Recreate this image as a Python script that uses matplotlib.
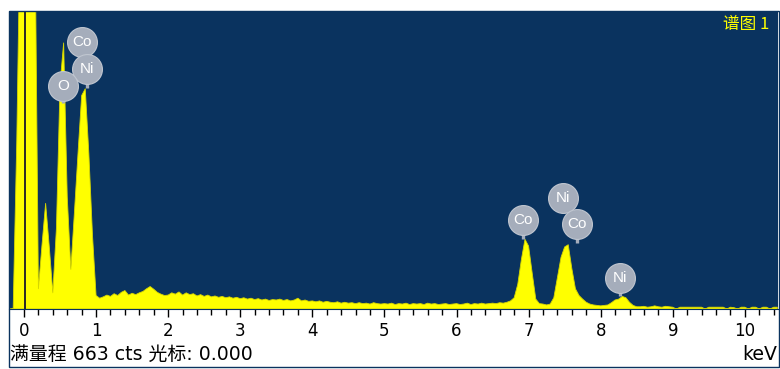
import numpy as np
import matplotlib.pyplot as plt
from matplotlib.patches import Rectangle

plt.rcParams['font.family'] = ['DejaVu Sans', 'Noto Sans CJK SC']

# energy grid (keV), step 0.05
energy = np.round(np.arange(-0.20, 10.46, 0.05), 2)

# counts, one row per keV
counts = [
    0, 0, 375, 900,                                                    # -0.20 .. -0.05
    900, 900, 900, 900, 45, 143, 235, 140, 36, 180,
    500, 592, 250, 88, 216, 348, 475, 490, 345, 165,                   # 0.00 .. 0.95
    30, 24, 27, 31, 28, 34, 30, 37, 41, 31,
    35, 32, 36, 39, 45, 50, 44, 37, 33, 30,                            # 1.00 .. 1.95
    31, 36, 33, 38, 31, 36, 32, 34, 29, 32,
    28, 31, 27, 29, 26, 28, 25, 27, 24, 26,                            # 2.00 .. 2.95
    23, 25, 22, 24, 21, 23, 20, 22, 19, 21,
    20, 22, 19, 21, 18, 20, 24, 18, 20, 17,                            # 3.00 .. 3.95
    18, 16, 18, 15, 17, 15, 14, 16, 13, 15,
    13, 14, 12, 14, 12, 13, 11, 14, 12, 11,                            # 4.00 .. 4.95
    12, 11, 13, 10, 12, 11, 13, 10, 12, 11,
    12, 10, 13, 11, 12, 10, 11, 12, 10, 11,                            # 5.00 .. 5.95
    12, 10, 11, 13, 10, 12, 11, 13, 11, 12,
    13, 12, 14, 13, 15, 18, 25, 55, 110, 155,                          # 6.00 .. 6.95
    140, 80, 22, 12, 11, 9, 11, 25, 70, 115,
    138, 143, 90, 45, 30, 22, 15, 11, 9, 8,                            # 7.00 .. 7.95
    7, 8, 9, 14, 20, 22, 28, 25, 15, 8,
    5, 5, 6, 4, 5, 7, 5, 4, 6, 5,                                      # 8.00 .. 8.95
    4, 0, 4, 4, 4, 4, 4, 4, 4, 0,
    4, 4, 4, 4, 4, 0, 4, 3, 0, 4,                                      # 9.00 .. 9.95
    4, 0, 4, 4, 0, 4, 4, 0, 4, 4,                                      # 10.00 .. 10.45
]
assert len(counts) == len(energy)

full_scale = 663
cursor = 0.000

# element badges: name, energy of badge, badge height (cts), stem end (cts)
peak_names = ['Co', 'Ni', 'O', 'Co', 'Ni', 'Co', 'Ni']
badge_e = [0.80, 0.87, 0.54, 6.92, 7.48, 7.67, 8.27]
badge_y = [595, 534, 496, 197, 246, 190, 69]
stem_end = [550, 492, 458, 156, 215, 147, 29]

navy = '#0a335f'
yellow = '#ffff00'
badge = '#a5adbb'

fig = plt.figure(figsize=(7.8, 3.69), dpi=100)
ax = fig.add_axes([9 / 780, (369 - 309) / 369, 769 / 780, 298 / 369])
ax.set_facecolor(navy)

ax.fill_between(energy, counts, 0, color=yellow, linewidth=0.6, edgecolor='#d6d600', zorder=2)
ax.axvline(cursor + 0.02, color='#2a2a2a', lw=1.4, zorder=3)

for name, e, y, s in zip(peak_names, badge_e, badge_y, stem_end):
    ax.plot([e, e], [y, s], color=badge, lw=2.4, solid_capstyle='butt', zorder=4)
for name, e, y, s in zip(peak_names, badge_e, badge_y, stem_end):
    ax.plot([e], [y], marker='o', ms=21.5, color=badge, mec='#c0c6d0', mew=0.8, zorder=5)
    ax.text(e, y, name, color='white', fontsize=11, ha='center', va='center', zorder=6,
            family='Liberation Sans')

ax.set_xlim(-0.208, 10.46)
ax.set_ylim(0, full_scale)
ax.set_xticks(range(0, 11))
ax.set_xticks(np.arange(0, 10.5, 0.2), minor=True)
ax.set_yticks([])
ax.tick_params(axis='x', which='major', direction='out', length=6, width=1, pad=3,
               labelsize=12, colors='black')
ax.tick_params(axis='x', which='minor', direction='out', length=4, width=1)
for side in ['top', 'left', 'right']:
    ax.spines[side].set_visible(False)
ax.spines['bottom'].set_color(navy)

ax.text(0.989, 0.955, '谱图 1', transform=ax.transAxes, color=yellow, fontsize=12,
        ha='right', va='center', family=['Noto Sans CJK SC', 'DejaVu Sans'])

fig.text(10 / 780, (369 - 354) / 369, f'满量程 {full_scale} cts 光标: {cursor:.3f}',
         fontsize=13.6, ha='left', va='center')
fig.text(777 / 780, (369 - 354) / 369, 'keV', fontsize=13.6, ha='right', va='center')

fig.patches.append(Rectangle((9 / 780, 2 / 369), 770 / 780, 356 / 369, transform=fig.transFigure,
                             fill=False, edgecolor=navy, lw=1))

fig.savefig('out.png', dpi=100)
